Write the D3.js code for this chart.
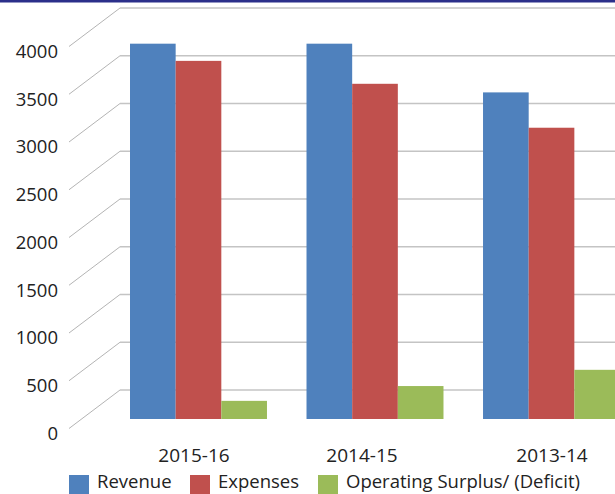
<!DOCTYPE html>
<html>
<head>
<meta charset="utf-8">
<script src="https://cdn.jsdelivr.net/npm/d3@7"></script>
<style>
  body { margin: 0; background: #fff; }
  text { font-family: 'Open Sans', sans-serif; fill: #222; }
</style>
</head>
<body>
<div id="chart"></div>
<script>
const years = ['2015-16', '2014-15', '2013-14']
const seriesNames = ['Revenue', 'Expenses', 'Operating Surplus/ (Deficit)']
const revenue = [3930, 3930, 3420]
const expenses = [3750, 3510, 3050]
const surplus = [190, 345, 515]
const yTicks = [0, 500, 1000, 1500, 2000, 2500, 3000, 3500, 4000]

const colors = ['#4f81bd', '#c0504d', '#9bbb59']
const width = 615
const height = 494

const svg = d3.select('#chart').append('svg')
  .attr('width', width)
  .attr('height', height)

// navy strip at the top
svg.append('rect')
  .attr('width', width)
  .attr('height', 2.5)
  .attr('fill', '#2b2f8a')

// oblique 3d: back wall, front axis and the plane the bars stand on
const wallX = 120
const frontX = 69
const yBack = d3.scaleLinear().domain([0, 4000]).range([390, 8])
const frontDy = 38.5
const barDy = 29

const x = d3.scaleBand()
  .domain(years)
  .range([130, 620])
  .paddingInner(0.224)
  .paddingOuter(0)

const xSub = d3.scaleBand()
  .domain(seriesNames)
  .range([0, x.bandwidth()])

const labelX = d3.scaleOrdinal(years, [194, 362, 552])

const grid = svg.append('g')

grid.selectAll('line.wall')
  .data(yTicks)
  .join('line')
  .attr('class', 'wall')
  .attr('x1', wallX)
  .attr('x2', width)
  .attr('y1', d => yBack(d))
  .attr('y2', d => yBack(d))
  .attr('stroke', '#c4c4c4')
  .attr('stroke-width', 1.6)

grid.selectAll('line.side')
  .data(yTicks)
  .join('line')
  .attr('class', 'side')
  .attr('x1', frontX)
  .attr('x2', wallX)
  .attr('y1', d => yBack(d) + frontDy)
  .attr('y2', d => yBack(d))
  .attr('stroke', '#b4b4b4')
  .attr('stroke-width', 1)

// y labels
svg.append('g').selectAll('text')
  .data(yTicks)
  .join('text')
  .attr('x', 58)
  .attr('y', d => yBack(d) + frontDy + 5)
  .attr('dy', '0.35em')
  .attr('text-anchor', 'end')
  .attr('font-size', '18.5px')
  .text(d => d)

// bars
const rows = years.map((yr, i) => ({
  year: yr,
  values: [revenue[i], expenses[i], surplus[i]]
}))

const groups = svg.append('g').selectAll('g')
  .data(rows)
  .join('g')
  .attr('transform', d => `translate(${x(d.year)}, 0)`)

groups.selectAll('rect')
  .data(d => d.values.map((v, j) => ({ name: seriesNames[j], value: v, j })))
  .join('rect')
  .attr('x', d => xSub(d.name))
  .attr('width', xSub.bandwidth())
  .attr('y', d => yBack(d.value) + barDy)
  .attr('height', d => yBack(0) - yBack(d.value))
  .attr('fill', d => colors[d.j])

// category labels
svg.append('g').selectAll('text')
  .data(years)
  .join('text')
  .attr('x', d => labelX(d))
  .attr('y', 455)
  .attr('dy', '0.35em')
  .attr('text-anchor', 'middle')
  .attr('font-size', '19px')
  .text(d => d)

// legend
const legendX = [69, 190, 318]
const legend = svg.append('g')
seriesNames.forEach((s, i) => {
  const row = legend.append('g')
    .attr('transform', `translate(${legendX[i]}, 475)`)
  row.append('rect')
    .attr('width', 20)
    .attr('height', 20)
    .attr('fill', colors[i])
  row.append('text')
    .attr('x', 28)
    .attr('y', 12.5)
    .attr('font-size', '18.5px')
    .text(s)
})
</script>
</body>
</html>
